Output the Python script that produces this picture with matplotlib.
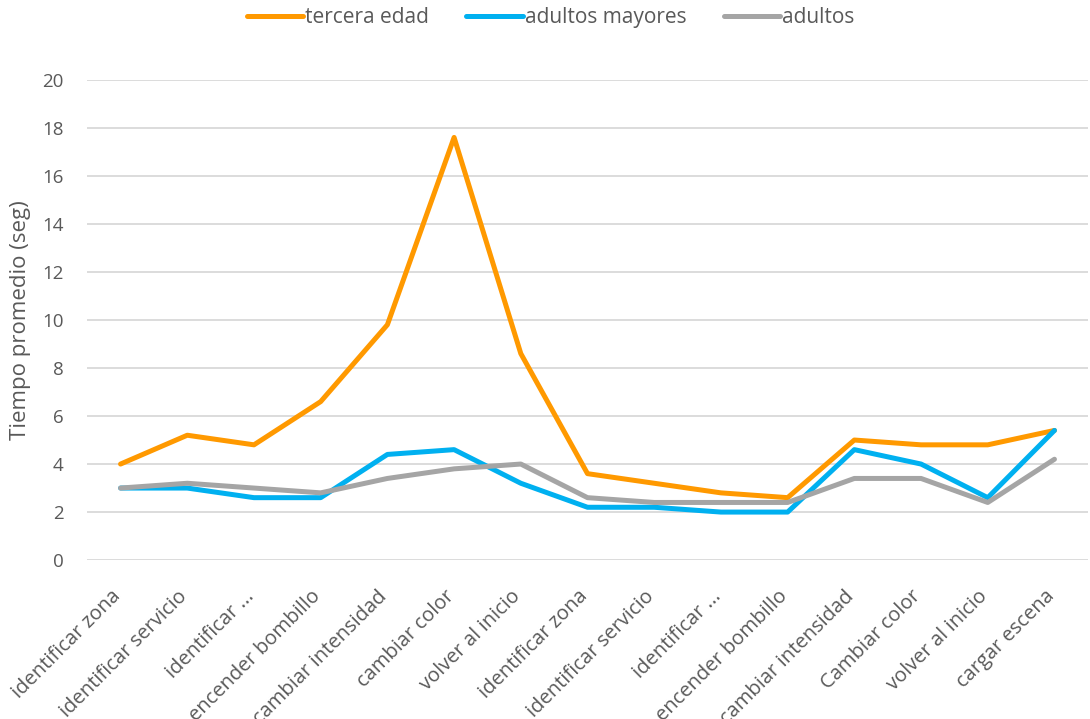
import matplotlib
matplotlib.use("Agg")
import matplotlib.pyplot as plt
import matplotlib.transforms as mtransforms

# datos
tareas = ['identificar zona', 'identificar servicio', 'identificar ...', 'encender bombillo',
          'cambiar intensidad', 'cambiar color', 'volver al inicio', 'identificar zona',
          'identificar servicio', 'identificar ...', 'encender bombillo', 'cambiar intensidad',
          'Cambiar color', 'volver al inicio', 'cargar escena']
tercera_edad = [4.0, 5.2, 4.8, 6.6, 9.8, 17.6, 8.6, 3.6, 3.2, 2.8, 2.6, 5.0, 4.8, 4.8, 5.4]
adultos_mayores = [3.0, 3.0, 2.6, 2.6, 4.4, 4.6, 3.2, 2.2, 2.2, 2.0, 2.0, 4.6, 4.0, 2.6, 5.4]
adultos = [3.0, 3.2, 3.0, 2.8, 3.4, 3.8, 4.0, 2.6, 2.4, 2.4, 2.4, 3.4, 3.4, 2.4, 4.2]

plt.rcParams['font.family'] = ['Open Sans', 'DejaVu Sans']
gris = '#595959'

fig = plt.figure(figsize=(10.9, 7.19), dpi=100)
ax = fig.add_axes([0.080, 0.221, 0.918, 0.668])

x = range(len(tareas))
ax.plot(x, tercera_edad, color='#FF9900', lw=3.6, label='tercera edad', solid_capstyle='round')
ax.plot(x, adultos_mayores, color='#00B0F0', lw=3.6, label='adultos mayores', solid_capstyle='round')
ax.plot(x, adultos, color='#A5A5A5', lw=3.6, label='adultos', solid_capstyle='round')

ax.set_xlim(-0.5, len(tareas) - 0.5)
ax.set_ylim(0, 20)
ax.set_yticks(range(0, 21, 2))
ax.set_xticks(list(x))
ax.set_xticklabels(tareas, rotation=45, ha='right', rotation_mode='anchor')
ax.tick_params(axis='y', length=0, labelsize=13.5, labelcolor=gris, pad=17)
ax.tick_params(axis='x', length=0, labelsize=14.5, labelcolor=gris, pad=19)
# pequeno desplazamiento a la izquierda de las etiquetas del eje x
desp = mtransforms.ScaledTranslation(-10 / 100, 0, fig.dpi_scale_trans)
for lab in ax.get_xticklabels():
    lab.set_transform(lab.get_transform() + desp)
ax.grid(axis='y', color='#D9D9D9', lw=1.3)
ax.set_axisbelow(True)
for s in ax.spines.values():
    s.set_visible(False)
ax.set_ylabel('Tiempo promedio (seg)', fontsize=16, color=gris, labelpad=8)

ax.legend(loc='upper center', bbox_to_anchor=(0.463, 1.19), ncol=3, frameon=False,
          fontsize=15, labelcolor=gris, handlelength=2.7, handletextpad=0.1,
          columnspacing=1.8)

fig.savefig('out.png', dpi=100)
